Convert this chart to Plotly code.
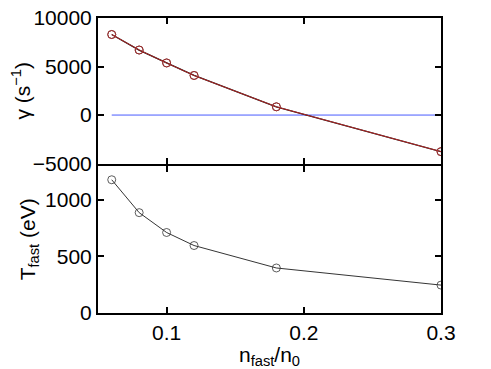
import plotly.graph_objects as go

n_ratio = [0.06, 0.08, 0.10, 0.12, 0.18, 0.30]
gamma = [8300, 6700, 5370, 4080, 850, -3770]
t_fast = [1175, 885, 710, 595, 397, 246]
zero_x = [0.06, 0.30]
zero_y = [0, 0]
gamma_ticks = [-5000, 0, 5000, 10000]
gamma_ticktext = ["−5000", "0", "5000", "10000"]
t_ticks = [0, 500, 1000]
x_ticks = [0.1, 0.2, 0.3]
x_ticktext = ["0.1", "0.2", "0.3"]

FONT = "Liberation Sans, Arial, sans-serif"

fig = go.Figure()
fig.add_trace(go.Scatter(x=zero_x, y=zero_y, mode="lines",
                         line=dict(color="#4a5cff", width=1), xaxis="x", yaxis="y"))
fig.add_trace(go.Scatter(x=n_ratio, y=gamma, mode="lines+markers",
                         line=dict(color="black", width=1.4),
                         marker=dict(symbol="circle-open", size=8, color="#552020", line=dict(width=1)),
                         xaxis="x", yaxis="y"))
fig.add_trace(go.Scatter(x=n_ratio, y=gamma, mode="lines+markers",
                         line=dict(color="#e03030", width=0.8),
                         marker=dict(symbol="circle-open", size=8, color="#b03030", line=dict(width=0.8)),
                         xaxis="x", yaxis="y"))
fig.add_trace(go.Scatter(x=n_ratio, y=t_fast, mode="lines+markers",
                         line=dict(color="black", width=0.8),
                         marker=dict(symbol="circle-open", size=8, color="#333333", line=dict(width=0.8)),
                         xaxis="x2", yaxis="y2"))

axis_common = dict(showline=True, linecolor="black", linewidth=2, mirror="ticks",
                   ticks="inside", ticklen=6, tickwidth=2, tickcolor="black",
                   showgrid=False, zeroline=False, automargin=False,
                   ticklabeloverflow="allow",
                   tickfont=dict(family=FONT, size=21, color="black"))

fig.update_layout(
    width=483, height=361,
    margin=dict(l=90, r=50, t=10, b=56),
    paper_bgcolor="white", plot_bgcolor="white",
    showlegend=False,
    font=dict(family=FONT, size=21, color="black"),
    xaxis=dict(domain=[0, 1], range=[0.05, 0.3], tickvals=x_ticks,
               showticklabels=False, anchor="y", **axis_common),
    yaxis=dict(domain=[0.5065, 1], range=[-5000, 10000], tickvals=gamma_ticks,
               ticktext=gamma_ticktext, anchor="x",
               title=dict(text="γ (s<sup>−1</sup>)", standoff=4, font=dict(family=FONT, size=21)),
               **axis_common),
    xaxis2=dict(domain=[0, 1], range=[0.05, 0.3], tickvals=x_ticks,
                ticktext=x_ticktext, anchor="y2",
                title=dict(text="n<sub>fast</sub>/n<sub>0</sub>", standoff=0, font=dict(family=FONT, size=21)),
                **axis_common),
    yaxis2=dict(domain=[0, 0.4997], range=[0, 1300], tickvals=t_ticks,
                anchor="x2",
                title=dict(text="T<sub>fast</sub> (eV)", standoff=4, font=dict(family=FONT, size=21)),
                **axis_common),
)

fig.write_html("out.html")
